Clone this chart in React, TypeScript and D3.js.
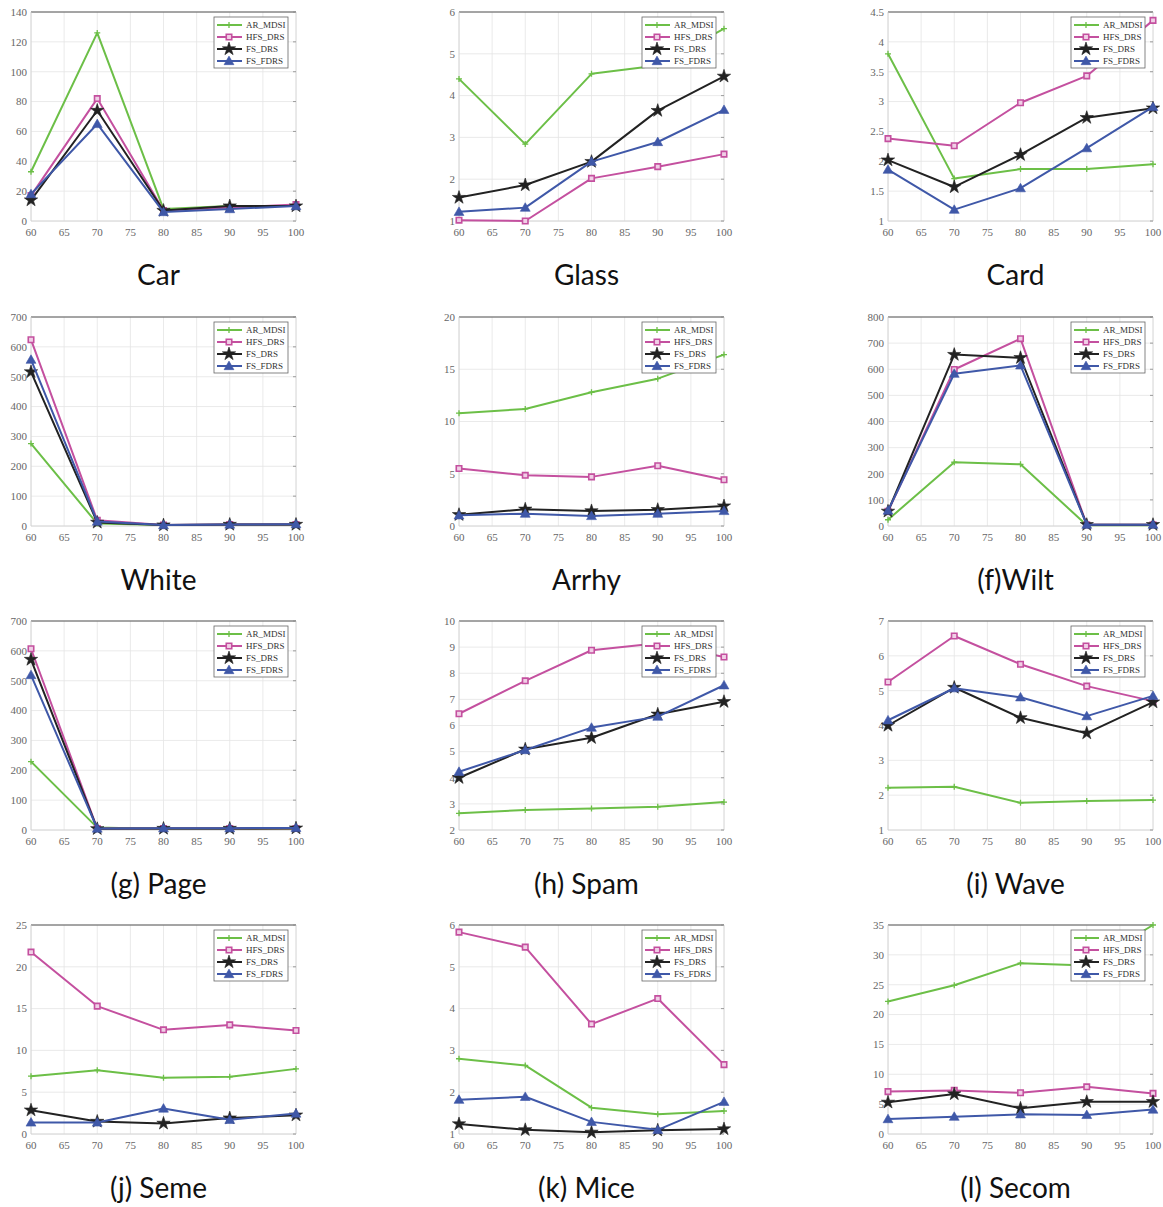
import * as d3 from 'd3'

// x positions shared by every panel
const X_TICKS = [60, 65, 70, 75, 80, 85, 90, 95, 100]
const X_VALUES = [60, 70, 80, 90, 100]
const SERIES_NAMES = ['AR_MDSI', 'HFS_DRS', 'FS_DRS', 'FS_FDRS']

// one small set of arrays per dataset: [AR_MDSI, HFS_DRS, FS_DRS, FS_FDRS]
const CAR = [[33, 126, 8, 10, 10], [17, 82, 7, 9, 11], [14, 74, 7, 10, 10], [18, 65, 6, 8, 10]]
const GLASS = [[4.4, 2.84, 4.52, 4.72, 5.6], [1.02, 1.0, 2.02, 2.3, 2.6], [1.56, 1.86, 2.42, 3.64, 4.46], [1.22, 1.32, 2.42, 2.89, 3.66]]
const CARD = [[3.8, 1.71, 1.87, 1.87, 1.95], [2.38, 2.26, 2.98, 3.43, 4.36], [2.02, 1.57, 2.11, 2.73, 2.89], [1.86, 1.19, 1.55, 2.22, 2.91]]
const WHITE = [[276, 8, 3, 3, 3], [624, 19, 3, 5, 5], [516, 12, 3, 5, 5], [557, 15, 3, 5, 6]]
const ARRHY = [[10.8, 11.2, 12.8, 14.1, 16.4], [5.5, 4.85, 4.7, 5.77, 4.43], [1.08, 1.6, 1.44, 1.56, 1.91], [1.02, 1.18, 0.96, 1.18, 1.44]]
const WILT = [[24, 244, 236, 3, 3], [56, 599, 717, 5, 5], [56, 656, 644, 5, 5], [59, 583, 615, 5, 5]]
const PAGE = [[229, 8, 3, 3, 3], [607, 5, 5, 5, 5], [571, 4, 5, 5, 6], [519, 5, 6, 6, 7]]
const SPAM = [[2.64, 2.77, 2.82, 2.89, 3.07], [6.45, 7.71, 8.88, 9.15, 8.62], [4.0, 5.09, 5.53, 6.43, 6.91], [4.23, 5.06, 5.92, 6.34, 7.54]]
const WAVE = [[2.21, 2.24, 1.78, 1.83, 1.86], [5.25, 6.57, 5.76, 5.13, 4.7], [4.0, 5.09, 4.22, 3.78, 4.67], [4.15, 5.07, 4.81, 4.27, 4.85]]
const SEME = [[6.92, 7.63, 6.72, 6.84, 7.79], [21.76, 15.3, 12.46, 13.05, 12.38], [2.85, 1.5, 1.27, 1.9, 2.25], [1.38, 1.38, 3.05, 1.7, 2.45]]
const MICE = [[2.8, 2.64, 1.63, 1.47, 1.55], [5.83, 5.47, 3.63, 4.24, 2.66], [1.24, 1.1, 1.04, 1.09, 1.12], [1.82, 1.89, 1.29, 1.1, 1.77]]
const SECOM = [[22.2, 24.9, 28.6, 28.2, 35.0], [7.1, 7.3, 6.9, 7.9, 6.8], [5.3, 6.7, 4.3, 5.4, 5.4], [2.5, 2.9, 3.3, 3.2, 4.1]]

const TITLES = ['Car', 'Glass', 'Card', 'White', 'Arrhy', '(f)Wilt', '(g) Page', '(h) Spam', '(i) Wave', '(j) Seme', '(k) Mice', '(l) Secom']
const DATASETS = [CAR, GLASS, CARD, WHITE, ARRHY, WILT, PAGE, SPAM, WAVE, SEME, MICE, SECOM]
// [min, max, step] of each y axis
const Y_DOMAINS = [
  [0, 140, 20], [1, 6, 1], [1, 4.5, 0.5],
  [0, 700, 100], [0, 20, 5], [0, 800, 100],
  [0, 700, 100], [2, 10, 1], [1, 7, 1],
  [0, 25, 5], [1, 6, 1], [0, 35, 5],
]

const COLORS = ['#6cbf47', '#c4509f', '#222222', '#3f58a8']

const W = 1163
const H = 1207
const COL_X = [31, 459, 888]
const ROW_Y = [12, 317, 621, 925]
const PW = 265
const PH = 209

const SERIF = '"Liberation Serif", "DejaVu Serif", serif'

function Marker({ kind, x, y }: { kind: number; x: number; y: number }) {
  const c = COLORS[kind]
  if (kind === 0) {
    return <path d={`M${x - 3},${y}H${x + 3}M${x},${y - 3}V${y + 3}`} stroke={c} strokeWidth={1.3} />
  }
  if (kind === 1) {
    return <path d={d3.symbol(d3.symbolSquare, 30)()!} transform={`translate(${x},${y})`} fill="#f0cfe6" stroke={c} strokeWidth={1.6} />
  }
  if (kind === 2) {
    return <path d={d3.symbol(d3.symbolStar, 55)()!} transform={`translate(${x},${y})`} fill={c} stroke={c} strokeWidth={0.6} />
  }
  return <path d={d3.symbol(d3.symbolTriangle, 42)()!} transform={`translate(${x},${y + 0.8})`} fill={c} stroke={c} strokeWidth={0.6} />
}

function Panel({ idx }: { idx: number }) {
  const left = COL_X[idx % 3]
  const top = ROW_Y[Math.floor(idx / 3)]
  const [y0, y1, step] = Y_DOMAINS[idx]
  const data = DATASETS[idx]

  const x = d3.scaleLinear().domain([60, 100]).range([left, left + PW])
  const y = d3.scaleLinear().domain([y0, y1]).range([top + PH, top])
  const yTicks = d3.range(y0, y1 + step / 2, step)
  const line = d3.line<number>().x((_, i) => x(X_VALUES[i])).y((v) => y(v))

  const lgW = 74
  const lgH = 51
  const lgX = left + PW - 8 - lgW
  const lgY = top + 5

  return (
    <g>
      {/* grid */}
      {X_TICKS.map((t) => (
        <line key={'gx' + t} x1={x(t)} x2={x(t)} y1={top} y2={top + PH} stroke="#e4e4e4" strokeWidth={0.8} />
      ))}
      {yTicks.map((t) => (
        <line key={'gy' + t} x1={left} x2={left + PW} y1={y(t)} y2={y(t)} stroke="#e4e4e4" strokeWidth={0.8} />
      ))}
      {/* frame */}
      <line x1={left} x2={left + PW} y1={top} y2={top} stroke="#555" strokeWidth={1} />
      <line x1={left} x2={left} y1={top} y2={top + PH} stroke="#d0d0d0" strokeWidth={0.8} />
      <line x1={left} x2={left + PW} y1={top + PH} y2={top + PH} stroke="#d0d0d0" strokeWidth={0.8} />
      <line x1={left + PW} x2={left + PW} y1={top} y2={top + PH} stroke="#d8d8d8" strokeWidth={0.8} />
      {yTicks.map((t) => (
        <line key={'rt' + t} x1={left + PW - 3} x2={left + PW} y1={y(t)} y2={y(t)} stroke="#888" strokeWidth={0.8} />
      ))}
      {/* tick labels */}
      {yTicks.map((t) => (
        <text key={'yl' + t} x={left - 4} y={y(t)} dy="0.35em" textAnchor="end" fontFamily={SERIF} fontSize={11} fill="#666">
          {d3.format('~g')(t)}
        </text>
      ))}
      {X_TICKS.map((t) => (
        <text key={'xl' + t} x={x(t)} y={top + PH + 11} dy="0.35em" textAnchor="middle" fontFamily={SERIF} fontSize={11} fill="#666">
          {t}
        </text>
      ))}
      {/* series */}
      {data.map((vals, s) => (
        <g key={'s' + s}>
          <path d={line(vals)!} fill="none" stroke={COLORS[s]} strokeWidth={2} strokeLinejoin="round" />
          {vals.map((v, i) => (
            <Marker key={i} kind={s} x={x(X_VALUES[i])} y={y(v)} />
          ))}
        </g>
      ))}
      {/* legend */}
      <rect x={lgX} y={lgY} width={lgW} height={lgH} fill="#fff" stroke="#666" strokeWidth={0.8} />
      {SERIES_NAMES.map((name, s) => {
        const ly = lgY + 8 + s * 12
        return (
          <g key={name}>
            <line x1={lgX + 3} x2={lgX + 28} y1={ly} y2={ly} stroke={COLORS[s]} strokeWidth={2} />
            <Marker kind={s} x={lgX + 15} y={ly} />
            <text x={lgX + 32} y={ly} dy="0.35em" fontFamily={SERIF} fontSize={9} fill="#333">
              {name}
            </text>
          </g>
        )
      })}
      {/* title */}
      <text x={left + PW / 2 - 5} y={top + PH + 54} dy="0.35em" textAnchor="middle" fontFamily="Lato, 'Open Sans', sans-serif" fontSize={28} fill="#111">
        {TITLES[idx]}
      </text>
    </g>
  )
}

export default function App() {
  return (
    <svg width={W} height={H} style={{ position: 'absolute', left: 0, top: 0, background: '#fff' }}>
      <rect width={W} height={H} fill="#fff" />
      {TITLES.map((_, i) => (
        <Panel key={i} idx={i} />
      ))}
    </svg>
  )
}
